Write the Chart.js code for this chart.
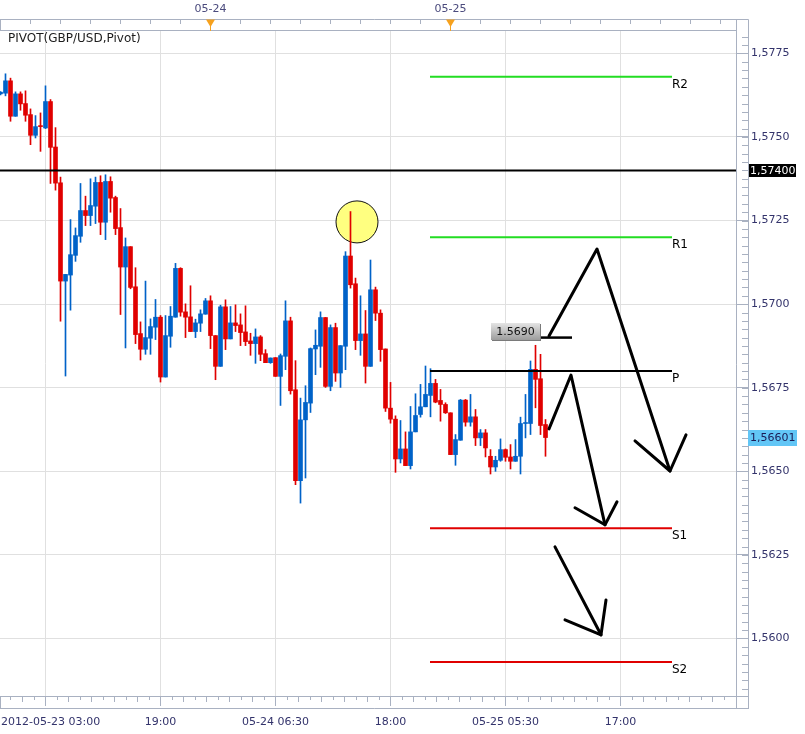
<!DOCTYPE html>
<html><head><meta charset="utf-8">
<script src="https://cdn.jsdelivr.net/npm/chart.js@4.4.0/dist/chart.umd.min.js"></script>
<style>html,body{margin:0;padding:0;background:#fff;overflow:hidden}#wrap{position:relative;width:805px;height:734px}</style>
</head><body><div id="wrap"><canvas id="c" width="805" height="734"></canvas></div>
<script>
// ---- data (30-minute candles, slot index = position in arrays) ----
const OPEN=[1.57629,1.57631,1.57668,1.57562,1.57629,1.57600,1.57567,1.57505,1.57534,1.57527,
1.57606,1.57470,1.57363,1.57069,1.57087,1.57146,1.57203,1.57280,1.57265,1.57293,
1.57364,1.57245,1.57367,1.57319,1.57229,1.57111,1.57172,1.57052,1.56912,1.56865,
1.56898,1.56931,1.56961,1.56782,1.56904,1.56961,1.57107,1.56977,1.56962,1.56918,
1.56943,1.56970,1.57010,1.56906,1.56814,1.56992,1.56896,1.56944,1.56938,1.56917,
1.56890,1.56882,1.56902,1.56852,1.56825,1.56840,1.56784,1.56844,1.56950,1.56744,
1.56472,1.56654,1.56704,1.56866,1.56874,1.56960,1.56754,1.56930,1.56794,1.56874,
1.57144,1.57061,1.56891,1.56911,1.56814,1.57043,1.56973,1.56866,1.56689,1.56656,
1.56537,1.56567,1.56517,1.56618,1.56670,1.56693,1.56727,1.56763,1.56712,1.56700,
1.56675,1.56550,1.56593,1.56713,1.56647,1.56663,1.56600,1.56615,1.56545,1.56513,
1.56533,1.56565,1.56543,1.56530,1.56545,1.56643,1.56643,1.56805,1.56777,1.56640];
const HIGH=[1.57636,1.57689,1.57676,1.57635,1.57635,1.57638,1.57584,1.57564,1.57572,1.57653,
1.57612,1.57528,1.57380,1.57089,1.57253,1.57228,1.57361,1.57323,1.57375,1.57380,
1.57384,1.57387,1.57381,1.57323,1.57286,1.57198,1.57172,1.57109,1.56947,1.57069,
1.56956,1.57014,1.56966,1.56966,1.56993,1.57122,1.57109,1.57001,1.57055,1.56955,
1.56983,1.57017,1.57025,1.56906,1.56997,1.57013,1.56993,1.56998,1.56971,1.56995,
1.56913,1.56926,1.56906,1.56864,1.56839,1.56840,1.56851,1.57010,1.56961,1.56831,
1.56719,1.56756,1.56869,1.56923,1.56977,1.56960,1.56938,1.56943,1.56876,1.57157,
1.57277,1.57078,1.57025,1.56981,1.57132,1.57051,1.56983,1.56866,1.56766,1.56666,
1.56652,1.56618,1.56694,1.56732,1.56760,1.56815,1.56807,1.56775,1.56745,1.56705,
1.56675,1.56610,1.56715,1.56715,1.56730,1.56685,1.56625,1.56625,1.56565,1.56545,
1.56597,1.56567,1.56580,1.56595,1.56662,1.56730,1.56830,1.56877,1.56850,1.56655];
const LOW=[1.57626,1.57623,1.57547,1.57562,1.57580,1.57547,1.57477,1.57497,1.57457,1.57525,
1.57361,1.57341,1.56949,1.56785,1.56982,1.57128,1.57185,1.57235,1.57235,1.57241,
1.57208,1.57193,1.57275,1.57208,1.56969,1.56869,1.57046,1.56882,1.56833,1.56850,
1.56850,1.56894,1.56767,1.56782,1.56871,1.56961,1.56964,1.56900,1.56918,1.56900,
1.56918,1.56970,1.56867,1.56774,1.56814,1.56864,1.56896,1.56918,1.56876,1.56876,
1.56847,1.56823,1.56831,1.56825,1.56823,1.56784,1.56697,1.56804,1.56731,1.56460,
1.56405,1.56480,1.56676,1.56789,1.56811,1.56751,1.56741,1.56769,1.56751,1.56804,
1.57048,1.56864,1.56847,1.56764,1.56814,1.56951,1.56829,1.56679,1.56644,1.56497,
1.56525,1.56517,1.56507,1.56618,1.56662,1.56693,1.56663,1.56705,1.56650,1.56673,
1.56550,1.56518,1.56593,1.56635,1.56635,1.56577,1.56577,1.56543,1.56492,1.56500,
1.56530,1.56530,1.56507,1.56530,1.56492,1.56600,1.56610,1.56690,1.56610,1.56545];
const CLOSE=[1.57634,1.57668,1.57562,1.57629,1.57599,1.57565,1.57505,1.57531,1.57531,1.57606,
1.57469,1.57362,1.57069,1.57089,1.57148,1.57205,1.57280,1.57265,1.57295,1.57364,
1.57245,1.57367,1.57317,1.57226,1.57111,1.57172,1.57050,1.56909,1.56865,1.56900,
1.56933,1.56961,1.56782,1.56906,1.56964,1.57107,1.56976,1.56961,1.56918,1.56944,
1.56971,1.57010,1.56906,1.56814,1.56992,1.56896,1.56944,1.56936,1.56915,1.56888,
1.56882,1.56902,1.56850,1.56825,1.56839,1.56784,1.56846,1.56950,1.56741,1.56472,
1.56654,1.56706,1.56867,1.56877,1.56960,1.56754,1.56930,1.56794,1.56876,1.57144,
1.57058,1.56891,1.56911,1.56814,1.57043,1.56973,1.56864,1.56689,1.56656,1.56537,
1.56567,1.56517,1.56618,1.56667,1.56693,1.56730,1.56763,1.56707,1.56700,1.56675,
1.56550,1.56595,1.56713,1.56647,1.56663,1.56600,1.56615,1.56570,1.56513,1.56533,
1.56565,1.56542,1.56530,1.56545,1.56643,1.56646,1.56805,1.56775,1.56637,1.56601];

const TITLE='PIVOT(GBP/USD,Pivot)';
const GRID_SLOTS=[9,32,55,78,101,124];
const TIME_LABELS=['2012-05-23 03:00','19:00','05-24 06:30','18:00','05-25 05:30','17:00'];
const DAY_SLOTS=[42,90];
const DAY_LABELS=['05-24','05-25'];
const PRICE_TICKS=[1.5600,1.5625,1.5650,1.5675,1.5700,1.5725,1.5750,1.5775];
const PIVOT_NAMES=['R2','R1','P','S1','S2'];
const PIVOT_LEVELS=[1.5768,1.5720,1.5680,1.5633,1.5593];
const PIVOT_SPAN=[85.9,134.3];
const HLINE_LEVEL=1.5740;
const LAST_PRICE=1.56601;
const MARK_POINT=[71.3,1.57246];
const NOTE_TEXT='1.5690';
const NOTE_LEVEL=1.5690;
const NOTE_BOX=[98.1,107.9];
const NOTE_LINE=[107.9,114.3];
const ARROW_PATHS=[
 [[109.7,1.56905],[119.3,1.57165],[133.9,1.56501]],
 [[126.9,1.56591],[133.9,1.56501],[137.1,1.56609]],
 [[109.7,1.56627],[114.1,1.56788],[120.9,1.56340]],
 [[114.9,1.56391],[120.9,1.56340],[123.3,1.56409]],
 [[110.9,1.56274],[120.1,1.56011]],
 [[112.9,1.56056],[120.1,1.56011],[121.1,1.56115]]
];

// ---- styling ----
const UP='#0062c8', DOWN='#e00000';
const GREEN='#22dd22', RED='#e00000';
const PIVOT_COLORS=[GREEN,GREEN,'#000000',RED,RED];
const FONT='"DejaVu Sans", Verdana, sans-serif';
const X_MIN=-0.1, X_MAX=147.1, Y_MIN=1.55828, Y_MAX=1.57817;

const idx=OPEN.map((_,i)=>i);
const colors=idx.map(i=>CLOSE[i]>=OPEN[i]?UP:DOWN);

const datasets=[];
PIVOT_LEVELS.forEach((lv,k)=>{
  datasets.push({type:'line',data:[{x:PIVOT_SPAN[0],y:lv},{x:PIVOT_SPAN[1],y:lv}],borderColor:PIVOT_COLORS[k],borderWidth:2,pointRadius:0,order:0});
});
datasets.push({type:'line',data:[{x:X_MIN,y:HLINE_LEVEL},{x:X_MAX,y:HLINE_LEVEL}],borderColor:'#000',borderWidth:2,pointRadius:0,order:0});
datasets.push({type:'line',data:[{x:NOTE_LINE[0],y:NOTE_LEVEL},{x:NOTE_LINE[1],y:NOTE_LEVEL}],borderColor:'#000',borderWidth:2.5,pointRadius:0,order:0});
ARROW_PATHS.forEach(p=>{
  datasets.push({type:'line',data:p.map(([x,y])=>({x,y})),borderColor:'#000',borderWidth:3,pointRadius:0,tension:0,borderCapStyle:'round',borderJoinStyle:'round',order:0});
});
datasets.push({type:'line',data:[{x:MARK_POINT[0],y:MARK_POINT[1]}],showLine:false,pointRadius:21,pointBackgroundColor:'#ffff80',pointBorderColor:'#111',pointBorderWidth:1,order:10});
datasets.push({type:'bar',data:idx.map(i=>({x:i,y:[LOW[i],HIGH[i]]})),backgroundColor:colors,barThickness:1,grouped:false,borderWidth:0,order:5});
datasets.push({type:'bar',data:idx.map(i=>({x:i,y:[OPEN[i],CLOSE[i]]})),backgroundColor:colors,barThickness:4,minBarLength:1,grouped:false,borderWidth:0,order:4});

const deco={
 id:'deco',
 beforeDraw(ch){const c=ch.ctx;c.save();c.fillStyle='#fff';c.fillRect(0,0,ch.width,ch.height);c.restore();},
 afterDraw(ch){
  const c=ch.ctx, xs=ch.scales.x, ys=ch.scales.y, a=ch.chartArea;
  const R=a.right, RR=R+12;
  const px=v=>Math.floor(xs.getPixelForValue(v))+0.5;
  const py=v=>Math.round(ys.getPixelForValue(v))+0.5;
  c.save();
  c.strokeStyle='#a9b1c1'; c.lineWidth=1;
  const line=(x1,y1,x2,y2)=>{c.beginPath();c.moveTo(x1,y1);c.lineTo(x2,y2);c.stroke();};
  // top ruler
  line(0,19.5,RR+0.5,19.5); line(0.5,19.5,0.5,a.top); line(0,a.top-0.5,R,a.top-0.5);
  for(let s=0;s<=X_MAX;s+=6){const x=px(s); if(x<R) line(x,19.5,x,24);}
  // right ruler
  line(R+0.5,19.5,R+0.5,a.bottom+13); line(RR+0.5,19.5,RR+0.5,a.bottom+13);
  for(let v=1.5580;v<=1.5785;v+=0.00025){const y=py(v); if(y>a.top&&y<a.bottom) line(R+6,y,RR,y);}
  // bottom ruler
  const bb=a.bottom+12.5;
  line(0,a.bottom+0.5,RR,a.bottom+0.5); line(0,bb,RR+0.5,bb); line(0.5,a.bottom,0.5,bb);
  for(let k=-1;k<GRID_SLOTS.length;k++){
    const s0=GRID_SLOTS[0]+k*23;
    for(let j=0;j<10;j++){const s=s0+j*2.3; if(s<X_MIN||s>X_MAX) continue; const x=px(s); line(x,a.bottom,x,a.bottom+(j===0?10:(j%2?4:6)));}
  }
  // day markers
  c.font='11px '+FONT; c.textBaseline='middle'; c.textAlign='center';
  DAY_SLOTS.forEach((s,k)=>{
    const x=xs.getPixelForValue(s);
    c.fillStyle='#f6a11e'; c.beginPath(); c.moveTo(x-4.5,19.5); c.lineTo(x+4.5,19.5); c.lineTo(x,27); c.closePath(); c.fill();
    c.strokeStyle='#f6a11e'; line(Math.floor(x)+0.5,26,Math.floor(x)+0.5,a.top);
    c.fillStyle='#4b4b7d'; c.fillText(DAY_LABELS[k],x,9);
  });
  // bottom labels
  c.fillStyle='#33336b';
  GRID_SLOTS.forEach((s,k)=>{
    const x=xs.getPixelForValue(s); const w=c.measureText(TIME_LABELS[k]).width;
    let left=x-w/2; if(left<1) left=1;
    c.textAlign='left'; c.fillText(TIME_LABELS[k],left,722);
  });
  // title
  c.font='12px '+FONT;
  c.fillStyle='#1c1c1c'; c.textAlign='left'; c.fillText(TITLE,8,39);
  // pivot labels
  c.fillStyle='#000';
  PIVOT_LEVELS.forEach((lv,k)=>{c.fillText(PIVOT_NAMES[k],xs.getPixelForValue(PIVOT_SPAN[1]),ys.getPixelForValue(lv)+8);});
  // level boxes on axis
  c.font='11px '+FONT;
  let y=ys.getPixelForValue(HLINE_LEVEL);
  c.fillStyle='#000'; c.fillRect(RR+1,Math.round(y)-6,47,13);
  c.fillStyle='#fff'; c.fillText(HLINE_LEVEL.toFixed(5).replace('.',','),RR+2,y+0.5);
  y=ys.getPixelForValue(LAST_PRICE);
  c.fillStyle='#62c6f6'; c.fillRect(RR,Math.round(y)-8,49,16);
  c.fillStyle='#1b1b55'; c.fillText(LAST_PRICE.toFixed(5).replace('.',','),RR+2,y+0.5);
  // note box
  const x1=xs.getPixelForValue(NOTE_BOX[0]), x2=xs.getPixelForValue(NOTE_BOX[1]);
  const yb=Math.round(ys.getPixelForValue(NOTE_LEVEL))+2, yt=yb-17;
  const g=c.createLinearGradient(0,yt,0,yb); g.addColorStop(0,'#e4e4e4'); g.addColorStop(1,'#9c9c9c');
  c.fillStyle='#7a7a7a'; c.fillRect(Math.round(x1)+1,yt+1,Math.round(x2-x1),17);
  c.fillStyle=g; c.fillRect(Math.round(x1),yt,Math.round(x2-x1),17);
  c.fillStyle='#111'; c.textAlign='center'; c.fillText(NOTE_TEXT,(x1+x2)/2,yt+9);
  c.restore();
 }
};

new Chart(document.getElementById('c'),{
 type:'bar',
 data:{datasets},
 plugins:[deco],
 options:{
  responsive:false,animation:false,events:[],
  layout:{autoPadding:false,padding:{top:31,left:0,right:0,bottom:0}},
  plugins:{legend:{display:false},tooltip:{enabled:false},title:{display:false}},
  scales:{
   x:{type:'linear',min:X_MIN,max:X_MAX,offset:false,
      afterBuildTicks:s=>{s.ticks=GRID_SLOTS.map(v=>({value:v}));},
      afterFit:s=>{s.height=38;},
      grid:{color:'#e0e0e0',drawTicks:false,offset:false},
      border:{display:false},ticks:{display:false}},
   y:{type:'linear',position:'right',min:Y_MIN,max:Y_MAX,
      afterBuildTicks:s=>{s.ticks=PRICE_TICKS.map(v=>({value:v}));},
      afterFit:s=>{s.width=69;},
      grid:{color:'#e0e0e0',drawTicks:true,tickLength:12,tickColor:'#a9b1c1'},
      border:{display:false},
      ticks:{font:{family:FONT,size:11},color:'#33336b',padding:3,callback:v=>v.toFixed(4).replace('.',',')}}
  }
 }
});
</script></body></html>
